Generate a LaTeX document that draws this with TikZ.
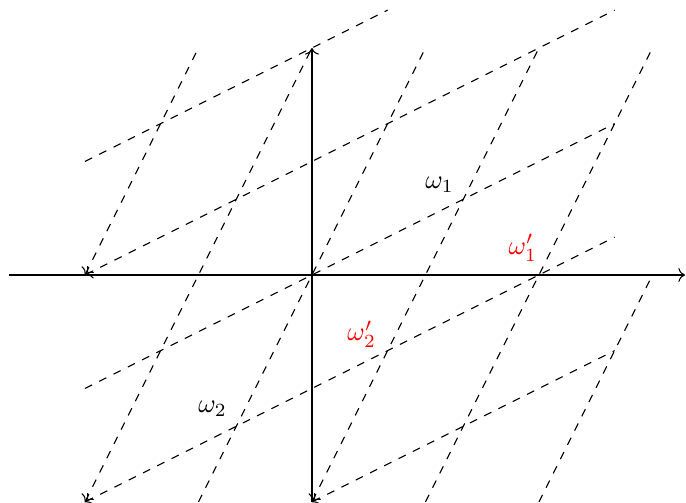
\documentclass[tikz,border=0pt]{standalone}
\usepackage{amsmath,amssymb}
\usepackage{tikz}
\usepackage{xcolor}
\usetikzlibrary{arrows.meta}

\begin{document}
\begin{tikzpicture}
\useasboundingbox (-4.123,-3.013) rectangle (4.943,3.634);
    % axes
    \draw[->] (-4,0) -- (4.93,0);
    \draw[->] (0,-3) -- (0,3);
    % lattice lines along omega_1
    \foreach \xa/\ya/\xb/\yb in {-3/1.5/1/3.5,-3/-1.5/4/2} {
        \draw[dashed] (\xa,\ya) -- (\xb,\yb);
    }
    \foreach \xa/\ya/\xb/\yb in {-3/0/4/3.5,-3/-3/4/0.5,0/-3/4/-1} {
        \draw[dashed,<-] (\xa,\ya) -- (\xb,\yb);
    }
    % lattice lines along omega_2
    \foreach \xa/\ya/\xb/\yb in {-1.5/-3/1.5/3,1.5/-3/4.5/3,3/-3/4.5/0} {
        \draw[dashed] (\xa,\ya) -- (\xb,\yb);
    }
    \foreach \xa/\ya/\xb/\yb in {-3/0/-1.5/3,-3/-3/0/3,0/-3/3/3} {
        \draw[dashed,<-] (\xa,\ya) -- (\xb,\yb);
    }
    % periods
    \node[above left] (w1) at (2,0.97) {$\omega_1$};
    \node[above left] (w2) at (-1,-2) {$\omega_2$};
    \node[above left, red] (w1p) at (3.1,0.06) {$\omega'_1$};
    \node[above left, red] (w2p) at (0.97,-1.08) {$\omega'_2$};
\end{tikzpicture}
\end{document}
